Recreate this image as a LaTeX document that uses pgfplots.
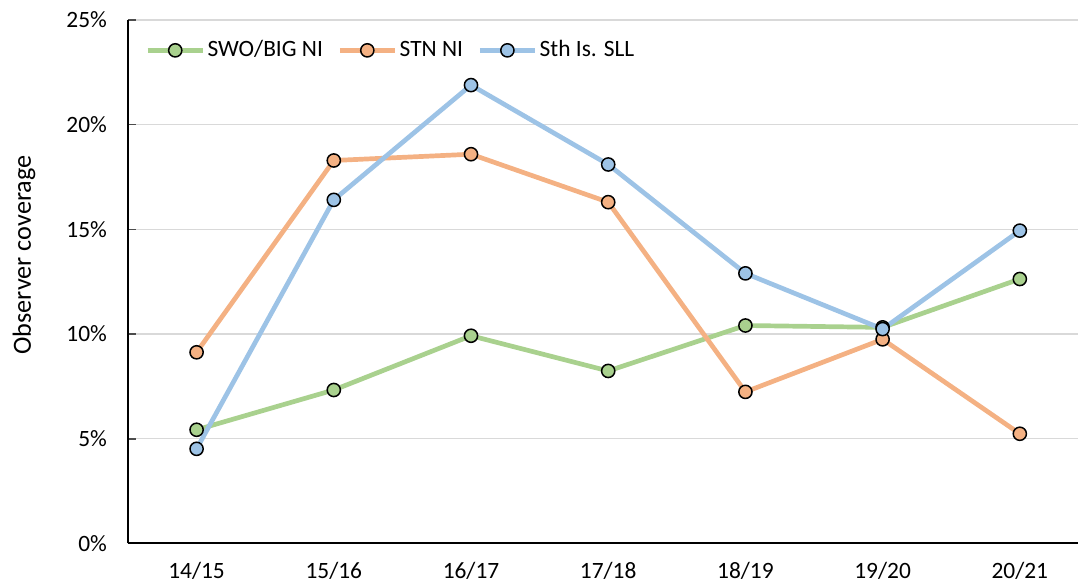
\documentclass[border=0pt]{standalone}
\usepackage{pgfplots}
\pgfplotsset{compat=1.18}
\usepackage{fontspec}
\setmainfont{Carlito}
\definecolor{cgreen}{HTML}{A9D18E}
\definecolor{corange}{HTML}{F4B183}
\definecolor{cblue}{HTML}{9DC3E6}
\definecolor{cgrid}{HTML}{D9D9D9}
\begin{document}
\begin{tikzpicture}
\begin{axis}[
  scale only axis, width=475pt, height=261.75pt,
  xmin=-0.5, xmax=6.424, ymin=0, ymax=25,
  axis x line*=bottom, axis y line*=left,
  axis line style={black, line width=1pt, -},
  xtick={0,...,6},
  xticklabels={14/15,15/16,16/17,17/18,18/19,19/20,20/21},
  ytick={0,5,10,15,20,25},
  yticklabels={0\%,5\%,10\%,15\%,20\%,25\%},
  x tick style={draw=none},
  y tick style={black!70, line width=0.75pt},
  tick align=inside, major tick length=4pt,
  ymajorgrids, grid style={cgrid, line width=0.6pt},
  font=\fontsize{11.7}{14}\selectfont,
  xticklabel style={yshift=-6pt},
  yticklabel style={xshift=-7pt},
  ylabel={Observer coverage},
  every axis y label/.style={at={(axis description cs:-0.1095,0.551)}, rotate=90, anchor=center, font=\fontsize{13.1}{15}\selectfont},
  legend columns=3,
  legend style={draw=none, fill=none, at={(axis description cs:0.0179,0.942)}, anchor=west,
    inner sep=0pt, nodes={inner sep=1.25pt},
    /tikz/every even column/.append style={column sep=6pt},
    font=\fontsize{11.7}{14}\selectfont},
  legend image code/.code={\draw[#1, mark repeat=2, mark phase=2] plot coordinates {(0pt,0pt) (13.75pt,0pt) (27.5pt,0pt)};},
  every axis plot/.append style={line width=2.35pt, mark=*, mark size=3.3pt},
]
\addplot[cgreen, mark options={fill=cgreen, draw=black, line width=0.75pt}] coordinates {
  (0,5.43) (1,7.33) (2,9.92) (3,8.24) (4,10.41) (5,10.32) (6,12.63)};
\addlegendentry{SWO/BIG NI}
\addplot[corange, mark options={fill=corange, draw=black, line width=0.75pt}] coordinates {
  (0,9.13) (1,18.29) (2,18.59) (3,16.30) (4,7.24) (5,9.75) (6,5.24)};
\addlegendentry{STN NI}
\addplot[cblue, mark options={fill=cblue, draw=black, line width=0.75pt}] coordinates {
  (0,4.52) (1,16.41) (2,21.89) (3,18.10) (4,12.90) (5,10.24) (6,14.94)};
\addlegendentry{Sth Is. SLL}
\end{axis}
\pgfresetboundingbox
\path ([xshift=-64pt,yshift=-21.5pt]current axis.south west) rectangle ([yshift=10pt]current axis.north east);
\end{tikzpicture}
\end{document}
